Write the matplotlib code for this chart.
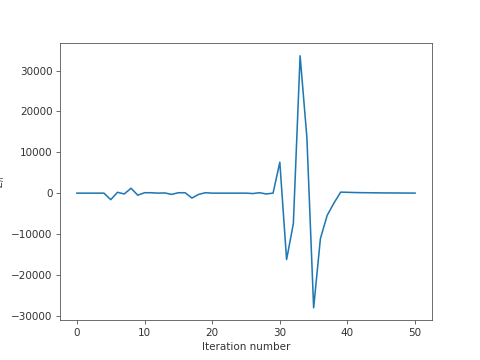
import matplotlib
matplotlib.use("Agg")
import matplotlib.pyplot as plt

iterations = list(range(51))
values = [0, 0, 0, 0, 0, -1600, 200, -200, 1200, -500,
          100, 100, 0, 50, -300, 100, 100, -1200, -300, 100,
          0, 0, 0, 0, 0, 0, -100, 100, -200, 0,
          7560, -16250, -7470, 33600, 13660, -28050, -11130, -5440, -2430, 250,
          200, 150, 120, 100, 80, 60, 50, 40, 30, 20, 10]

plt.rcParams["text.color"] = "#333333"
plt.rcParams["axes.labelcolor"] = "#333333"
plt.rcParams["xtick.labelcolor"] = "#333333"
plt.rcParams["ytick.labelcolor"] = "#333333"
plt.rcParams["xtick.color"] = "#555555"
plt.rcParams["ytick.color"] = "#555555"
plt.rcParams["axes.edgecolor"] = "#555555"

fig, ax = plt.subplots(figsize=(6.4, 4.8), dpi=75)
ax.plot(iterations, values, color="#1f77b4")
ax.set_xlabel("Iteration number")
ax.set_ylabel(r"$E_n$")
fig.savefig("out.png", dpi=75)
